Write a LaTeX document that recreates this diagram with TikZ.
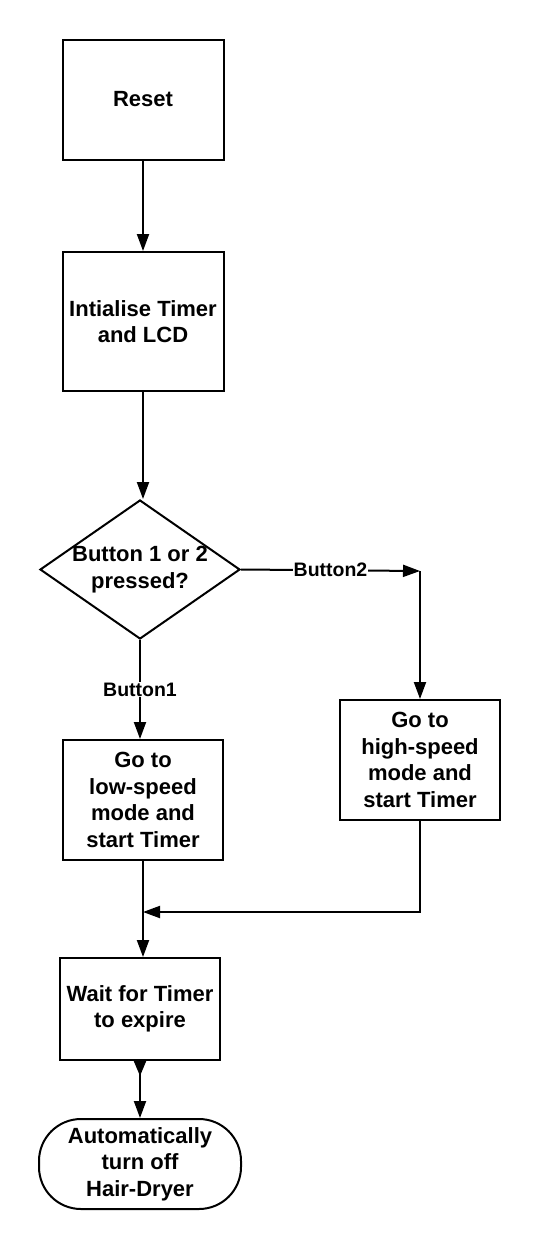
\documentclass[tikz,border=0pt]{standalone}
\usepackage{fontspec}
\setmainfont{Liberation Sans}
\usetikzlibrary{arrows.meta, shapes.geometric, calc, positioning}

\begin{document}
\begin{tikzpicture}[x=1pt, y=-1pt,
  caja/.style={draw, line width=2pt, inner sep=0pt, align=center,
    font=\fontsize{22}{26.5}\selectfont\bfseries},
  rombo/.style={draw, diamond, line width=2pt, inner sep=0pt,
    minimum width=200pt, minimum height=139pt},
  fin/.style={caja, rounded corners=42pt},
  flecha/.style={line width=2pt, -{Triangle[length=17pt,width=12pt]}},
  etiq/.style={fill=white, inner sep=1pt, font=\fontsize{19.5}{22}\selectfont\bfseries}
]
\useasboundingbox (0,0) rectangle (540,1250);
% Cajas del diagrama
\node[caja, minimum width=161pt, minimum height=120pt] (reset) at (143,99.5) {Reset};
\node[caja, minimum width=161pt, minimum height=139pt] (init) at (143,321.5) {Intialise Timer\\and LCD};
\node[rombo] (dec) at (140,569.5) {};
\node[caja, draw=none] (dectext) at (dec) {Button 1 or 2\\pressed?};
\node[caja, minimum width=160pt, minimum height=120pt] (low) at (143,800) {Go to\\low-speed\\mode and\\start Timer};
\node[caja, minimum width=160pt, minimum height=120pt] (high) at (420,760) {Go to\\high-speed\\mode and\\start Timer};
\node[caja, minimum width=160pt, minimum height=102pt] (wait) at (140,1009) {Wait for Timer\\to expire};
\node[fin, minimum width=202pt, minimum height=90pt] (off) at (140,1164) {Automatically\\turn off\\Hair-Dryer};
% Puntos de giro
\coordinate (corner) at (420,571);
\coordinate (join) at (143,912);
% Flechas
\draw[flecha] (reset.south) -- (init.north);
\draw[flecha] (init.south) -- (init.south |- dec.north);
\draw[flecha] (dec.east) -- node[etiq] (b2) {Button2} (corner);
\draw[flecha] (corner) -- (high.north);
\draw[flecha] (dec.south) -- node[etiq] (b1) {Button1} (dec.south |- low.north);
\draw[flecha] (low.south) -- (low.south |- wait.north);
\draw[flecha] (high.south) |- (join);
\draw[line width=2pt, {Triangle[reversed,length=15pt,width=12pt]}-{Triangle[length=17pt,width=12pt]}] (wait.south) -- (off.north);
\end{tikzpicture}
\end{document}
